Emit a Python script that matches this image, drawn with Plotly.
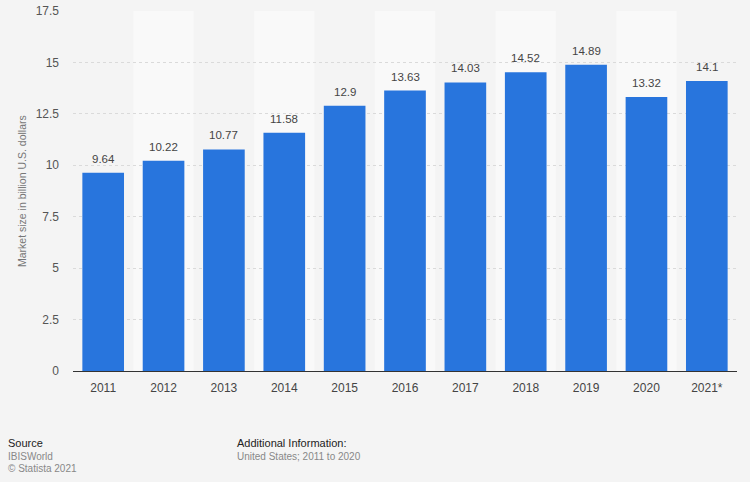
import plotly.graph_objects as go

years = ["2011", "2012", "2013", "2014", "2015", "2016", "2017", "2018", "2019", "2020", "2021*"]
values = [9.64, 10.22, 10.77, 11.58, 12.9, 13.63, 14.03, 14.52, 14.89, 13.32, 14.1]
labels = ["9.64", "10.22", "10.77", "11.58", "12.9", "13.63", "14.03", "14.52", "14.89", "13.32", "14.1"]
y_ticks = [0, 2.5, 5, 7.5, 10, 12.5, 15, 17.5]
y_ticktext = ["0", "2.5", "5", "7.5", "10", "12.5", "15", "17.5"]

FONT = "Liberation Sans, Arial, sans-serif"
L, R, T, B = 73, 13, 11, 111
W, H = 750, 482
plot_w = W - L - R
plot_h = H - T - B

fig = go.Figure()
fig.add_trace(go.Bar(
    x=years, y=values,
    marker=dict(color="#2875dd", line=dict(width=0)),
    width=0.69, hoverinfo="skip",
))

shapes = []
for i in range(len(years)):
    if i % 2 == 1:
        shapes.append(dict(type="rect", xref="x", yref="paper", x0=i - 0.5, x1=i + 0.5,
                           y0=0, y1=1, fillcolor="#f9f9f9", line=dict(width=0), layer="below"))

anns = []
for i, (v, t) in enumerate(zip(values, labels)):
    anns.append(dict(x=i, y=v, xref="x", yref="y", text=t, showarrow=False,
                     yanchor="bottom", yshift=6,
                     font=dict(size=11.5, color="#444", family=FONT)))

anns.append(dict(text="Market size in billion U.S. dollars", textangle=-90, showarrow=False,
                 xref="paper", yref="paper", x=(22 - L) / plot_w, y=0.5,
                 xanchor="center", yanchor="middle",
                 font=dict(size=10.5, color="#777", family=FONT)))

footer = [
    ("Source", 6, 443, True),
    ("IBISWorld", 6, 456, False),
    ("© Statista 2021", 6, 468, False),
    ("Additional Information:", 235, 443, True),
    ("United States; 2011 to 2020", 235, 456, False),
]
for text, px, py, bold in footer:
    anns.append(dict(
        text=text, showarrow=False, xref="paper", yref="paper",
        x=(px - L) / plot_w, y=(H - B - py) / plot_h,
        xanchor="left", yanchor="middle",
        font=dict(size=11 if bold else 10, color="#222" if bold else "#888", family=FONT),
    ))

fig.update_layout(
    width=W, height=H,
    margin=dict(l=L, r=R, t=T, b=B, autoexpand=False),
    paper_bgcolor="#f4f4f4", plot_bgcolor="#f4f4f4",
    font=dict(family=FONT, color="#555"),
    showlegend=False,
    shapes=shapes,
    annotations=anns,
    xaxis=dict(type="category", showgrid=False, ticks="", showline=True, linecolor="#333",
               linewidth=1, tickfont=dict(size=12, color="#444"), range=[-0.5, 10.5],
               zeroline=False, automargin=False, ticklabelstandoff=6),
    yaxis=dict(range=[0, 17.5], tickvals=y_ticks, ticktext=y_ticktext,
               showgrid=True, gridcolor="#dadada", griddash="dot", gridwidth=1,
               zeroline=False, ticks="", tickfont=dict(size=12, color="#555"),
               automargin=False, ticklabelstandoff=13),
)

fig.write_html("out.html", config={"displayModeBar": False},
               post_script="document.body.style.margin='0';document.body.style.background='#f4f4f4';")
